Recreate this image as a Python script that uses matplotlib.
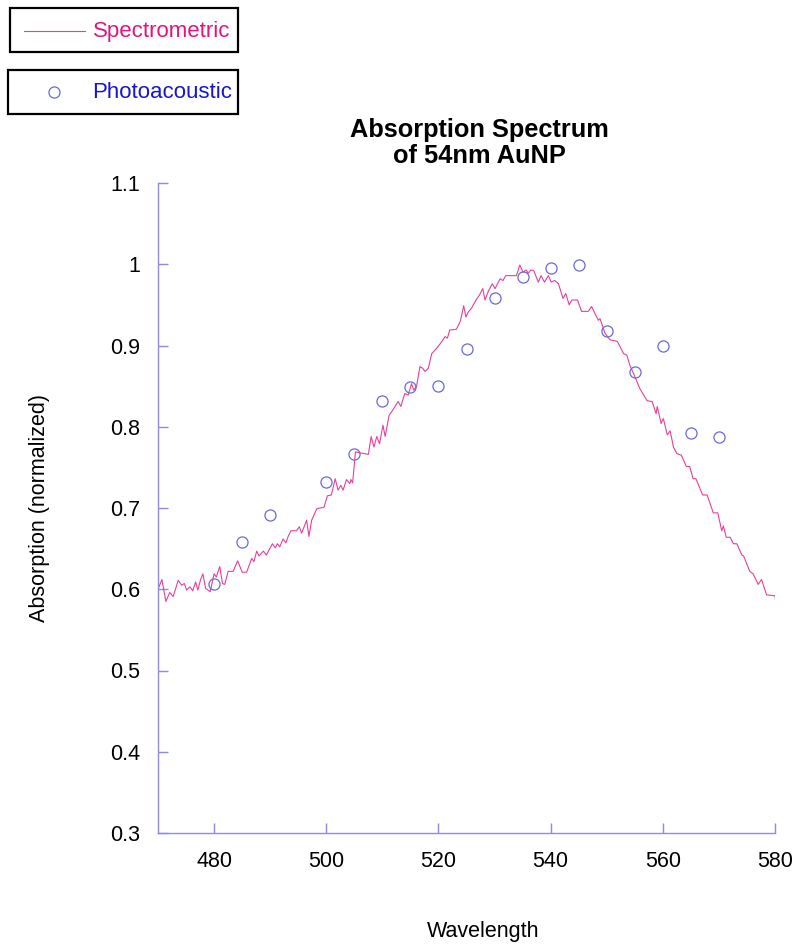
import matplotlib
matplotlib.use("Agg")
import matplotlib.pyplot as plt
from matplotlib.patches import Rectangle
from matplotlib.lines import Line2D

plt.rcParams["font.family"] = ["Liberation Sans", "DejaVu Sans"]

# spectrometer trace (nm, normalized absorption)
spec_nm = [
    470.05, 470.7, 471.4, 472.1, 472.7, 473.6, 474.2, 474.7, 475.1, 475.7,
    476.2, 476.7, 477.1, 477.6, 478.0, 478.5, 479.3, 480.0, 480.4, 481.0,
    481.5, 481.9, 482.5, 483.4, 484.2, 485.0, 485.8, 486.7, 487.1, 487.6,
    488.0, 488.8, 489.3, 489.7, 490.4, 490.9, 491.3, 491.7, 492.3, 492.8,
    493.2, 493.7, 494.7, 495.2, 495.6, 496.1, 496.5, 496.9, 497.4, 498.3,
    499.6, 500.2, 500.9, 501.6, 502.1, 502.6, 503.0, 503.6, 504.2, 504.4,
    504.7, 505.2, 507.5, 508.0, 508.5, 509.0, 509.5, 510.1, 510.5, 511.2,
    511.9, 512.8, 513.3, 514.0, 514.6, 515.2, 515.6, 516.1, 516.7, 517.2,
    517.6, 518.2, 518.8, 519.6, 520.4, 521.2, 521.6, 522.0, 523.2, 523.9,
    524.5, 524.9, 525.3, 525.9, 526.7, 527.3, 527.9, 528.3, 528.9, 529.6,
    530.1, 530.6, 531.0, 531.5, 532.0, 533.9, 534.5, 535.1, 535.6, 536.0,
    536.5, 537.0, 537.8, 538.3, 538.9, 539.6, 540.1, 540.7, 541.4, 542.2,
    542.7, 543.3, 543.8, 544.8, 545.5, 546.7, 547.3, 548.5, 548.8, 549.1,
    549.7, 550.6, 551.9, 553.0, 553.6, 554.1, 555.0, 555.9, 557.2, 558.1,
    558.8, 559.0, 559.7, 560.1, 560.8, 561.3, 561.9, 562.5, 563.3, 564.2,
    564.8, 565.4, 565.9, 567.1, 567.9, 569.0, 569.8, 570.5, 570.8, 571.3,
    572.0, 572.6, 573.2, 574.1, 574.4, 575.5, 576.1, 577.0, 577.6, 578.5,
    580.0, 580.1,
]
spec_abs = [
    0.601, 0.612, 0.585, 0.596, 0.591, 0.611, 0.605, 0.607, 0.599, 0.603,
    0.598, 0.609, 0.599, 0.612, 0.619, 0.601, 0.597, 0.619, 0.615, 0.628,
    0.607, 0.606, 0.622, 0.622, 0.635, 0.621, 0.621, 0.638, 0.634, 0.647,
    0.641, 0.647, 0.642, 0.647, 0.656, 0.651, 0.656, 0.652, 0.662, 0.657,
    0.665, 0.672, 0.672, 0.677, 0.669, 0.678, 0.685, 0.665, 0.685, 0.699,
    0.701, 0.715, 0.716, 0.736, 0.722, 0.728, 0.722, 0.735, 0.730, 0.735,
    0.731, 0.769, 0.766, 0.788, 0.775, 0.788, 0.779, 0.802, 0.788, 0.814,
    0.821, 0.831, 0.825, 0.841, 0.839, 0.853, 0.845, 0.850, 0.874, 0.872,
    0.868, 0.872, 0.890, 0.896, 0.903, 0.911, 0.909, 0.919, 0.920, 0.930,
    0.949, 0.935, 0.941, 0.946, 0.956, 0.962, 0.970, 0.956, 0.967, 0.976,
    0.970, 0.977, 0.982, 0.980, 0.986, 0.986, 0.999, 0.990, 0.993, 0.989,
    0.993, 0.992, 0.978, 0.986, 0.978, 0.986, 0.978, 0.980, 0.976, 0.958,
    0.964, 0.950, 0.956, 0.956, 0.942, 0.942, 0.948, 0.931, 0.933, 0.927,
    0.915, 0.907, 0.905, 0.890, 0.888, 0.876, 0.862, 0.847, 0.832, 0.831,
    0.816, 0.825, 0.804, 0.810, 0.790, 0.795, 0.775, 0.767, 0.765, 0.751,
    0.751, 0.736, 0.736, 0.716, 0.716, 0.694, 0.694, 0.672, 0.678, 0.664,
    0.664, 0.656, 0.656, 0.642, 0.641, 0.622, 0.619, 0.606, 0.612, 0.593,
    0.592, 0.586,
]

# photoacoustic measurements
pa_nm = [480, 485, 490, 500, 505, 510, 515, 520, 525, 530, 535, 540, 545,
         550, 555, 560, 565, 570]
pa_abs = [0.607, 0.658, 0.692, 0.732, 0.766, 0.832, 0.849, 0.850, 0.896,
          0.959, 0.984, 0.996, 0.999, 0.918, 0.867, 0.900, 0.792, 0.787]

x_ticks = [480, 500, 520, 540, 560, 580]
y_ticks = [0.3, 0.4, 0.5, 0.6, 0.7, 0.8, 0.9, 1.0, 1.1]
y_labels = ["0.3", "0.4", "0.5", "0.6", "0.7", "0.8", "0.9", "1", "1.1"]

line_col = "#e8409a"
mark_col = "#6a6ad8"
axis_col = "#8c8ce8"

W, H = 800, 951
fig = plt.figure(figsize=(W / 100, H / 100), dpi=100)
ax = fig.add_axes([158 / W, 1 - 833 / H, 617 / W, 650 / H])

ax.plot(spec_nm, spec_abs, color=line_col, lw=0.8)
ax.plot(pa_nm, pa_abs, ls="none", marker="o", ms=8, mfc="none",
        mec=mark_col, mew=0.9)

ax.set_xlim(470, 580)
ax.set_ylim(0.3, 1.1)
ax.set_xticks(x_ticks)
ax.set_yticks(y_ticks)
ax.set_yticklabels(y_labels)
for s in ["top", "right"]:
    ax.spines[s].set_visible(False)
for s in ["left", "bottom"]:
    ax.spines[s].set_color(axis_col)
    ax.spines[s].set_linewidth(1.0)
ax.tick_params(direction="in", length=7.5, width=1, color=axis_col,
               labelsize=15.5, labelcolor="black")
ax.tick_params(axis="x", pad=13)
ax.tick_params(axis="y", pad=13)

ax.set_xlabel("Wavelength", fontsize=15.5, va="center")
ax.xaxis.set_label_coords(0.5 + 17 / 617, -99 / 650)
ax.set_ylabel("Absorption (normalized)", fontsize=15.5, va="center")
ax.yaxis.set_label_coords(-118 / 617, 0.5)

fig.text(479 / W, 1 - 143 / H, "Absorption Spectrum\nof 54nm AuNP",
         ha="center", va="center", fontsize=18.3, fontweight="bold",
         linespacing=1.1)

# two separate legend boxes, top left
def px(x, y):
    return x / W, 1 - y / H

for (x0, y0, x1, y1) in [(10, 8, 238, 52), (8, 70, 238, 114)]:
    fig.patches.append(Rectangle(px(x0, y1), (x1 - x0) / W, (y1 - y0) / H,
                                 transform=fig.transFigure, fill=False,
                                 ec="black", lw=1.6))
fig.lines.append(Line2D([24 / W, 85 / W], [1 - 31 / H, 1 - 31 / H],
                        transform=fig.transFigure, color=line_col, lw=0.8))
fig.text(*px(93, 32), "Spectrometric", color="#e0157d", fontsize=16,
         va="center", ha="left")
fig.lines.append(Line2D([54 / W], [1 - 92 / H], transform=fig.transFigure,
                        marker="o", ms=8, mfc="none", mec=mark_col, mew=0.9))
fig.text(*px(92, 93), "Photoacoustic", color="#1616d0", fontsize=16,
         va="center", ha="left")

fig.savefig("out.png", dpi=100)
